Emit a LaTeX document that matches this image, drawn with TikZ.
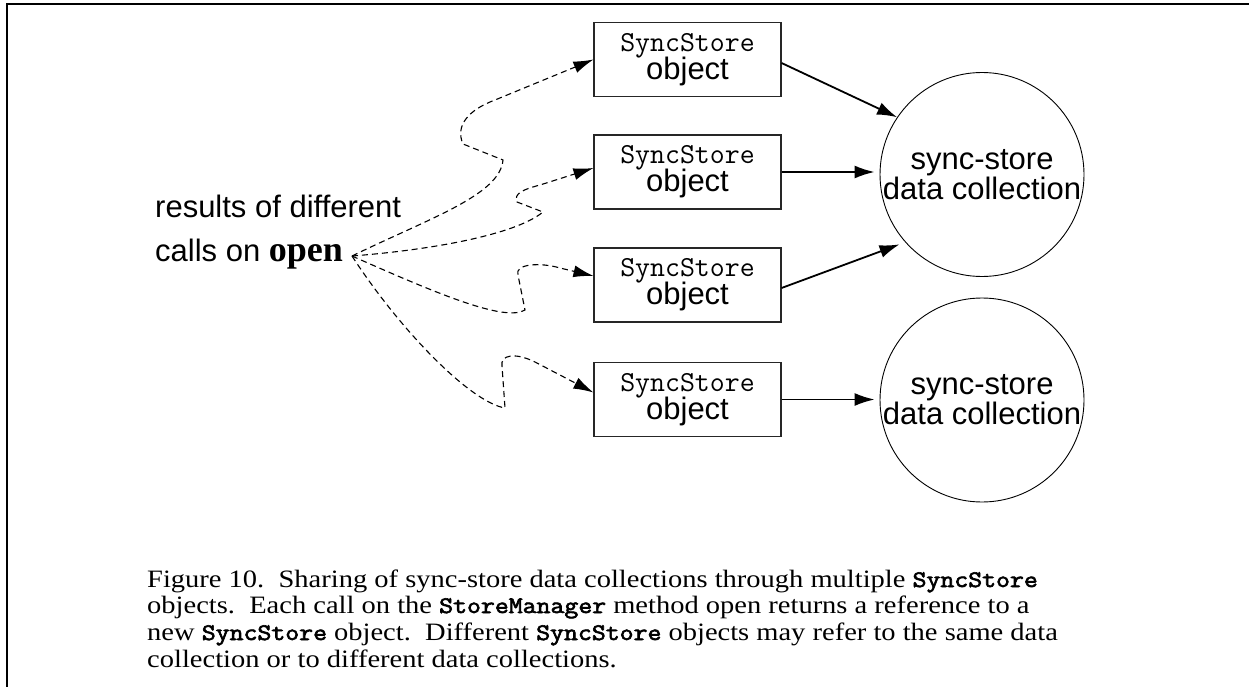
\documentclass[tikz,border=0pt]{standalone}
\usepackage{fontspec}
\usepackage{graphicx}
\setmainfont{Liberation Serif}
\setsansfont{Liberation Sans}
\newfontfamily\capmono{Latin Modern Mono}[FakeBold=2.5]
\usetikzlibrary{arrows.meta}

\begin{document}
\begin{tikzpicture}[x=1pt,y=-1pt,
  objbox/.style={draw=black!85, line width=1.1pt, minimum width=187pt, minimum height=74pt,
    inner sep=0pt, align=center, font=\sffamily\fontsize{31}{31}\selectfont},
  store/.style={circle, draw, line width=0.9pt, minimum size=204pt, inner sep=0pt,
    align=center, font=\sffamily\fontsize{31}{30}\selectfont},
  link/.style={line width=1.8pt, -{Latex[length=20pt,width=13pt]}},
  call/.style={dash pattern=on 6pt off 4pt, line width=1.1pt, -{Latex[length=20pt,width=12pt]}},
  lbl/.style={anchor=base west, inner sep=0pt, font=\sffamily\fontsize{31}{31}\selectfont},
  captext/.style={anchor=base west, inner sep=0pt, font=\fontsize{25}{27}\selectfont}
]
\useasboundingbox (0,0) rectangle (1249,687);

% frame
\draw[line width=2pt] (1249,4) -- (7,4) -- (7,687);

% SyncStore objects
\newcommand{\objtext}{{\ttfamily\fontsize{29}{29}\selectfont SyncStore}\\[-3pt]object}
\newcommand{\clsname}[1]{{\capmono\fontsize{23.7}{23.7}\selectfont #1}}
\newcommand{\capline}[1]{\scalebox{1.14}[1]{#1}}
\node[objbox] (b1) at (687.5,59.5) {\objtext};
\node[objbox] (b2) at (687.5,172) {\objtext};
\node[objbox] (b3) at (687.5,285) {\objtext};
\node[objbox] (b4) at (687.5,399.5) {\objtext};

% data collections
\node[store] (c1) at (982,174.5) {sync-store\\data collection};
\node[store] (c2) at (982,400) {sync-store\\data collection};

% references from objects to collections
\draw[link] ([yshift=-3.5pt]b1.east) -- (c1.146);
\draw[link] (b2.east) -- ([xshift=-5pt]c2.west |- b2.east);
\draw[link] ([yshift=-3pt]b3.east) -- ([xshift=-4pt,yshift=-4pt]c1.220);
\draw[link] (b4.east) -- ([xshift=-5pt]c2.west |- b4.east);

% label
\node[lbl] (l1) at (155,217) {results of different};
\node[lbl] (l2) at (155,261) {calls on {\rmfamily\bfseries\fontsize{36}{36}\selectfont open}};
\coordinate (src) at (352,256);

% results of the calls on open
\draw[call] (src) .. controls (430,218) and (500,195) .. (503,160)
  -- (463,144) .. controls (455,126) and (468,110) .. (495,100) -- (b1.west);
\draw[call] (src) .. controls (430,250) and (515,235) .. (543,212)
  -- (517,202) .. controls (513,193) and (525,189) .. (540,185) -- ([yshift=4pt]b2.west);
\draw[call] (src) .. controls (440,295) and (505,322) .. (525,310)
  -- (518,275) .. controls (514,264) and (540,262) .. (560,268) -- ([yshift=9pt]b3.west);
\draw[call] (src) .. controls (400,330) and (470,402) .. (505,408)
  -- (502,366) .. controls (500,355) and (515,352) .. (535,362) -- ([yshift=7pt]b4.west);

% caption
\node[captext] (k1) at (147,587) {\capline{Figure 10.\ \ Sharing of sync-store data collections through multiple \clsname{SyncStore}}};
\node[captext] (k2) at (147,613) {\capline{objects.\ \ Each call on the \clsname{StoreManager} method open returns a reference to a}};
\node[captext] (k3) at (147,640) {\capline{new \clsname{SyncStore} object.\ \ Different \clsname{SyncStore} objects may refer to the same data}};
\node[captext] (k4) at (147,667) {\capline{collection or to different data collections.}};
\end{tikzpicture}
\end{document}
